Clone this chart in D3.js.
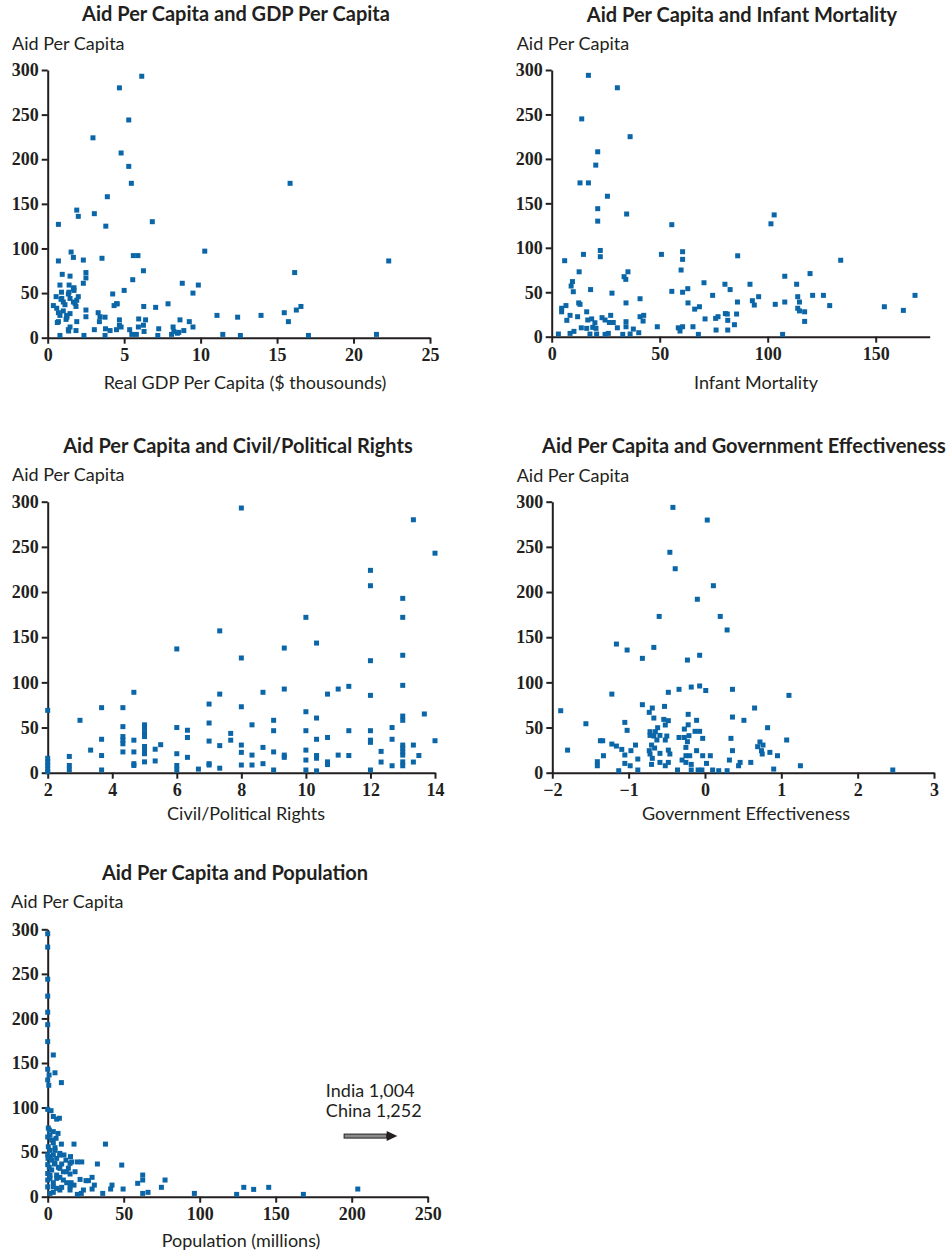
<!DOCTYPE html>
<html>
<head>
<meta charset="utf-8">
<script src="https://cdn.jsdelivr.net/npm/d3@7"></script>
<style>
  body { margin: 0; background: #fff; }
  .title { font-family: Lato, 'Open Sans', sans-serif; font-weight: 700; font-size: 20px; fill: #231f20; }
  .lab { font-family: Lato, 'Open Sans', sans-serif; font-size: 18px; fill: #231f20; }
  .axis path, .axis line { stroke: #231f20; stroke-width: 2; }
</style>
</head>
<body>
<svg id="chart" width="952" height="1256"></svg>
<script>
// y axis shared by all panels
const aidTicks = [0, 50, 100, 150, 200, 250, 300]

// GDP per capita ($ thousands) vs aid per capita
const gdpTicks = [0, 5, 10, 15, 20, 25]
const gdpX = [6.15, 4.69, 5.3, 2.96, 4.8, 5.3, 5.47, 15.85, 3.9, 1.9,
  3.05, 2.0, 0.7, 3.8, 6.84, 10.27, 1.53, 1.68, 2.33, 3.55,
  5.6, 5.9, 0.7, 22.3, 2.5, 2.5, 0.95, 1.46, 2.33, 6.26,
  16.15, 5.56, 8.8, 9.85, 0.8, 1.4, 1.72, 1.72, 5.0, 9.5,
  4.25, 0.9, 1.35, 0.55, 2.0, 0.92, 1.46, 1.02, 1.68, 1.9,
  4.5, 4.34, 7.87, 6.28, 7.06, 16.56, 16.26, 0.37, 0.59, 1.85,
  1.13, 2.5, 0.7, 1.02, 1.46, 3.3, 15.47, 0.8, 1.24, 2.5,
  3.42, 3.75, 11.07, 12.42, 13.95, 0.7, 1.2, 1.9, 3.38, 4.69,
  5.95, 6.4, 8.65, 9.26, 15.74, 4.69, 1.46, 5.93, 6.26, 9.5,
  8.2, 4.8, 1.35, 1.85, 3.05, 3.78, 4.08, 4.5, 5.36, 7.26,
  6.3, 8.25, 8.9, 8.57, 0.8, 2.37, 3.75, 5.5, 5.8, 7.2,
  8.1, 11.45, 12.6, 17.05, 21.5,
  1.26, 0.63, 1.79, 0.87, 1.39, 1.68, 4.55, 1.37, 8.48]
const gdpY = [293, 280, 244, 224, 207, 192, 173, 173, 158, 143,
  139, 136, 127, 125, 130, 97, 96, 90, 87, 89,
  92, 92, 86, 86, 73, 67, 71, 69, 61, 75,
  73, 65, 61, 59, 59, 59, 56, 53, 53, 50,
  49, 51, 49, 46, 46, 44, 44, 40, 40, 42,
  38, 36, 38, 35, 34, 35, 31, 36, 33, 35,
  37, 31, 28, 30, 27, 28, 28, 25, 25, 23.5,
  23.5, 23, 25, 23, 25, 18, 20.5, 18, 18, 20,
  21, 20, 20, 18, 18, 14, 12, 12, 14, 12,
  12, 12, 9, 8, 9, 10, 8, 9, 9, 10,
  7, 7, 8, 6, 2.5, 2.5, 2.5, 3.7, 3.7, 2.5,
  3.7, 3.7, 2.5, 2.5, 3.7,
  23, 17, 38.5, 43, 51, 55, 38, 7.5, 5]

// infant mortality
const imTicks = [0, 50, 100, 150]
const imX = [17, 30.4, 13.9, 36.3, 21.3, 20.4, 13.1, 17, 25.8, 21.3,
  34.7, 21.3, 55.6, 101.5, 103, 22.5, 22.5, 14.7, 50.8, 60.6,
  60.6, 86.1, 6, 133.8, 59.9, 12.7, 35.3, 107.9, 119.6, 33.5,
  34.3, 9.6, 9, 70.5, 80.2, 91.8, 113.4, 18, 10, 27.9,
  55.6, 60.6, 63, 82.6, 74.5, 120.8, 125.8, 168.2, 95.8, 113.9,
  40.9, 92.9, 93.8, 86, 107.9, 114.7, 12.5, 34.4, 63.1, 103.5,
  128.7, 154, 68.4, 66.2, 113.9, 114.7, 117.1, 162.8, 6.6, 4.6,
  4.6, 13.1, 16.2, 85.6, 80.4, 81.3, 8.5, 12, 23.3, 27.3,
  40.9, 42.6, 77, 75.9, 71, 7, 16.7, 18.5, 24.7, 26.7,
  28.5, 42.3, 34.4, 20, 81.5, 117.1, 84.6, 13.7, 16.2, 19,
  20.5, 30.4, 34.4, 37.8, 48.9, 58.6, 60.6, 65.4, 76.1, 81.5,
  59.4, 3.1, 8.5, 10.3, 17.7, 20.8, 24.7, 26.2, 32.9, 36.3,
  40.3, 67.9, 106.9]
const imY = [294, 280, 245, 225, 208, 193, 173, 173, 158, 144,
  138, 130, 126, 127, 137, 97, 90, 92.6, 92.6, 95.6,
  87, 91, 85.5, 86, 75, 73, 73, 68, 71, 67.5,
  64.5, 62, 57, 60.7, 59, 59, 59, 53, 50.6, 49,
  51, 50, 54, 53, 46.5, 46.5, 46.5, 46.5, 45, 45,
  42.7, 40.5, 35.6, 39, 39, 39, 38, 38, 38, 36.4,
  35, 33.7, 33.7, 31, 32, 29, 28, 29.6, 35, 32,
  28, 36.4, 28, 25.5, 26, 25.5, 24, 22.5, 21.4, 24,
  22.5, 24, 22.5, 20.6, 20, 18.4, 18.8, 20, 18.8, 16,
  16, 17.6, 16.9, 15.7, 18.4, 17.2, 13.5, 10, 9.4, 10.5,
  9.4, 10, 11.2, 8.6, 11.2, 10, 11.2, 11.2, 7.5, 7.5,
  6.4, 3, 3.7, 6, 3, 3, 2.6, 3.7, 2.6, 3,
  4.5, 2.6, 2.6]

// civil / political rights
const civTicks = [2, 4, 6, 8, 10, 12, 14]
const civX = [2, 2, 2, 2, 2, 2, 2.67, 2.67, 2.67, 3, 3.33,
  3.67, 3.67, 3.67, 3.67, 4.33, 4.33, 4.33, 4.33, 4.33, 4.33,
  4.67, 4.67, 4.67, 4.67, 4.67, 5, 5, 5, 5, 5, 5, 5, 5,
  5.33, 5.33, 5.5, 6, 6, 6, 6, 6, 6.33, 6.33, 6.33, 6.67,
  7, 7, 7, 7, 7, 7.33, 7.33, 7.33, 7.33, 7.67, 7.67,
  8, 8, 8, 8, 8, 8, 8.33, 8.33, 8.33, 8.67, 8.67, 8.67,
  9, 9, 9, 9, 9.33, 9.33, 9.33, 9.33,
  10, 10, 10, 10, 10, 10, 10.33, 10.33, 10.33, 10.33, 10.33, 10.33,
  10.67, 10.67, 10.67, 10.67, 11, 11, 11.33, 11.33, 11.33,
  12, 12, 12, 12, 12, 12, 12, 12, 12.33, 12.33, 12.67, 12.67, 12.67,
  13, 13, 13, 13, 13, 13, 13, 13, 13, 13, 13, 13,
  13.33, 13.33, 13.33, 13.5, 13.67, 14, 14]
const civY = [69, 16, 12, 8, 4, 1, 18, 8, 3, 58, 25,
  72, 37, 19, 3, 72, 51, 40, 36, 32, 23,
  89, 36, 23, 10, 8, 53, 49, 43.5, 40, 29, 25, 21, 12,
  26, 13, 31, 137, 50, 21, 8, 3, 47, 39, 17, 4,
  76, 55, 35, 10, 8.5, 157, 87, 30, 5, 43.5, 36,
  293, 127, 73, 30.6, 22.5, 8.5, 53, 19.5, 8.5, 89, 28, 10,
  58, 46.5, 23, 3, 138, 92.6, 19.5, 17,
  172, 67.5, 46.5, 25, 14, 3, 143.5, 60.5, 37, 19, 16, 2,
  87, 39, 12, 9, 92.6, 19.5, 95.6, 46.5, 19,
  224, 207, 124, 85.6, 46.5, 36, 33.6, 3, 23.6, 11.8, 50, 37, 7.7,
  193, 172, 130, 96.7, 62.7, 58, 30.6, 27, 23, 19.5, 12, 7.7,
  280, 30.6, 11.8, 19, 65, 243, 35.4]

// government effectiveness
const geTicks = [-2, -1, 0, 1, 2, 3]
const geX = [-0.42, 0.03, -0.46, -0.39, 0.11, -0.1, -0.6, 0.2, 0.29, -1.16,
  -1.02, -0.67, -0.82, -0.23, -0.07, -0.18, -0.07, 0.01, -0.34, -0.48,
  0.36, -1.22, 1.1, -1.89, -0.82, -0.69, -0.53, 0.65, -0.73, -0.22,
  -0.67, -0.54, -0.48, -0.11, 0.36, 0.51, -1.56, -1.05, -0.52, -0.22,
  -0.62, -0.27, 0.82, -1.02, -0.72, -0.65, -0.13, -0.07, -0.72, -0.67,
  -0.59, -0.5, -0.34, -0.27, -0.21, -0.03, 0.34, 1.07, -1.37, -1.34,
  -0.63, -0.52, -0.23, 0.72, -1.22, -1.16, -0.91, -0.7, -0.25, 0.69,
  0.76, -1.09, -0.97, -0.73, -0.66, -0.48, -0.11, 0.36, 0.74, 0.85,
  -1.8, -1.33, -1.05, -0.72, -0.59, -0.46, -0.25, -0.2, -0.03, 0.07,
  0.75, 0.95, -0.69, -0.88, -0.3, 0.32, -1.41, -1.05, -0.7, -0.59,
  -0.48, -0.25, -0.18, 0.02, 0.46, 0.6, -1.41, -0.98, -0.52, 0.44,
  1.25, -1.13, -0.88, -0.36, -0.18, -0.09, -0.04, 0.1, 0.18, 0.29,
  0.9, 2.46]
const geY = [293.7, 279.7, 244, 225.8, 207, 192, 173, 173, 158, 142.4,
  135.8, 138.7, 126.6, 124.7, 130, 94.8, 96, 91, 92.3, 89,
  92.3, 87, 85.6, 68.6, 75.3, 71.6, 73.4, 71.6, 66.8, 64.6,
  60.5, 59, 57.6, 58, 61.6, 58, 54.2, 55.7, 52.8, 53,
  49.8, 48.3, 49.8, 46.9, 45.4, 45.4, 45.8, 45.8, 41.3, 40.6,
  41.3, 40.6, 39, 39, 41, 38, 38, 36.2, 35.4, 35.4,
  36.2, 36.2, 34.3, 34, 31.7, 29.5, 30.6, 30.6, 28, 28.8,
  30.6, 25.8, 24.4, 24.4, 27.3, 25, 24.4, 24.4, 24.4, 22.5,
  25, 18.8, 19.6, 20.7, 21.4, 20.7, 18.8, 18.8, 18.8, 18.8,
  20.7, 18.8, 15.9, 15.1, 14, 14, 12.2, 10.3, 9.2, 11.4,
  11.4, 11.4, 9.2, 10.3, 11.4, 11.4, 7.7, 7.7, 7.7, 7.7,
  7.7, 2.2, 3, 3, 3, 3, 3, 3, 2.2, 2.2,
  4, 3]

// population (millions)
const popTicks = [0, 50, 100, 150, 200, 250]
const popX = [0, 0, 0, 0, 0, 0, 0, 3.7, 0, 0.9,
  4.8, 0, 0.7, 9, 0, 2.2, 3.7, 5.9, 7.7, 0.4,
  3.7, 6.8, 0, 1.5, 5.5, 17.3, 38, 9, 3.7, 0.4,
  4.8, 1.5, 8, 10.7, 15, 3.7, 0.2, 5.9, 2.6, 12,
  15.8, 19.5, 22.4, 0, 4.4, 9.2, 32.7, 48.7, 7, 13.6,
  2.6, 10.3, 18, 14.7, 5.9, 1.5, 8, 29.2, 62.5, 62.5,
  77.2, 0, 21.3, 25.2, 26.8, 3.7, 12.5, 15.4, 59.2, 17.3,
  30.7, 42.3, 9.2, 5.9, 74.8, 129, 145.4, 29.2, 41.4, 49.6,
  135.5, 204, 14.7, 23.5, 3.7, 66, 22.1, 36.2, 62.5, 96.5,
  19.5, 124.3, 168.2,
  1.1, 2.6, 4.8, 1.5, 8, 4.8, 14.7, 8, 12.5, 1.5,
  5.9, 10.3, 3.7, 14.7, 8, 1.5, 0, 0, 0, 1]
const popY = [295, 280, 244, 225, 207, 193, 174, 159, 143, 136.5,
  139, 131, 125, 128, 98, 96.5, 90, 87, 88, 77,
  73, 71, 67, 69, 65.5, 59, 59, 59, 60.6, 56,
  55, 52, 48.6, 46.8, 45, 46.8, 43, 43, 41, 41,
  39, 39, 39, 36, 36.7, 36.7, 36.7, 35.5, 33, 32,
  30, 28, 28, 25.4, 24.3, 20.6, 21.7, 21.7, 24.3, 18.7,
  18.7, 18.7, 19.4, 18, 18, 15.7, 15.7, 15.7, 15, 13,
  13, 13, 10.5, 9.4, 10.5, 10.5, 10.5, 8.6, 8.6, 8.6,
  8.2, 8.6, 7.5, 7.5, 4.9, 4.9, 3.7, 3.7, 3.7, 3.7,
  2.6, 2.6, 2.6,
  74.7, 63.5, 52, 45, 46.7, 37.4, 37.4, 31.8, 28, 24.3,
  20.6, 18.7, 11.2, 11.2, 7.5, 3.7, 11, 26, 47, 33]

const ink = '#231f20'
const blue = '#0b66a8'
const svg = d3.select('#chart')

function styleAxis(sel) {
  sel.selectAll('text')
    .style('font-family', "'Liberation Serif', 'DejaVu Serif', serif")
    .style('font-weight', '700')
    .style('font-size', '18px')
    .style('fill', ink)
}

function panel(o) {
  const g = svg.append('g')
  const x = d3.scaleLinear().domain(o.xDomain).range([o.x0, o.x1])
  const y = d3.scaleLinear().domain([0, 300]).range([o.yb, o.yt])

  g.append('text').attr('class', 'title')
    .attr('x', o.titleX).attr('y', o.titleY)
    .attr('text-anchor', 'middle').text(o.title)
  g.append('text').attr('class', 'lab')
    .attr('x', o.yLabX).attr('y', o.yLabY).text('Aid Per Capita')
  g.append('text').attr('class', 'lab')
    .attr('x', o.xLabX).attr('y', o.xLabY)
    .attr('text-anchor', 'middle').text(o.xLabel)

  g.append('g').attr('class', 'axis')
    .attr('transform', `translate(${o.x0},0)`)
    .call(d3.axisLeft(y).tickValues(aidTicks).tickSize(6).tickPadding(3).tickSizeOuter(0))
    .call(styleAxis)
  g.append('g').attr('class', 'axis')
    .attr('transform', `translate(0,${o.yb})`)
    .call(d3.axisBottom(x).tickValues(o.ticks).tickFormat(d3.format('d'))
      .tickSize(6).tickPadding(5).tickSizeOuter(0))
    .call(styleAxis)

  const pts = o.xs.map((v, i) => ({ x: v, y: o.ys[i] }))
  g.selectAll('rect.pt')
    .data(pts)
    .join('rect')
    .attr('class', 'pt')
    .attr('x', (d) => x(d.x) - 2.5)
    .attr('y', (d) => y(d.y) - 2.5)
    .attr('width', 5)
    .attr('height', 5)
    .style('fill', blue)
  return { g, x, y }
}

panel({ title: 'Aid Per Capita and GDP Per Capita', xLabel: 'Real GDP Per Capita ($ thousounds)',
  xs: gdpX, ys: gdpY, xDomain: [0, 25], ticks: gdpTicks,
  x0: 47.7, x1: 430, yb: 337.7, yt: 70,
  titleX: 236, titleY: 21, yLabX: 12, yLabY: 50, xLabX: 245, xLabY: 389 })

panel({ title: 'Aid Per Capita and Infant Mortality', xLabel: 'Infant Mortality',
  xs: imX, ys: imY, xDomain: [0, 175], ticks: imTicks,
  x0: 551.7, x1: 929.7, yb: 336.7, yt: 70,
  titleX: 742, titleY: 22, yLabX: 516.7, yLabY: 50, xLabX: 756, xLabY: 389 })

panel({ title: 'Aid Per Capita and Civil/Political Rights', xLabel: 'Civil/Political Rights',
  xs: civX, ys: civY, xDomain: [2, 14], ticks: civTicks,
  x0: 47.7, x1: 435, yb: 772.7, yt: 501.7,
  titleX: 238, titleY: 453, yLabX: 12, yLabY: 481, xLabX: 246, xLabY: 820 })

panel({ title: 'Aid Per Capita and Government Effectiveness', xLabel: 'Government Effectiveness',
  xs: geX, ys: geY, xDomain: [-2, 3], ticks: geTicks,
  x0: 552.3, x1: 934, yb: 772.7, yt: 501.7,
  titleX: 744, titleY: 453, yLabX: 516.7, yLabY: 482, xLabX: 746, xLabY: 820 })

const pop = panel({ title: 'Aid Per Capita and Population', xLabel: 'Population (millions)',
  xs: popX, ys: popY, xDomain: [0, 250], ticks: popTicks,
  x0: 47.7, x1: 427.7, yb: 1196.7, yt: 929.3,
  titleX: 235, titleY: 880, yLabX: 11, yLabY: 908, xLabX: 241, xLabY: 1247 })

// India and China are off the scale
const outliers = ['India 1,004', 'China 1,252']
pop.g.selectAll('text.note')
  .data(outliers)
  .join('text')
  .attr('class', 'lab note')
  .attr('x', pop.x(183))
  .attr('y', (d, i) => pop.y(112) + i * 20)
  .text((d) => d)

const ay = pop.y(68)
const ax0 = pop.x(195), ax1 = pop.x(223), ax2 = pop.x(230)
pop.g.append('rect')
  .attr('x', ax0).attr('y', ay - 2)
  .attr('width', ax1 - ax0).attr('height', 4)
  .style('fill', '#8a8a8a').style('stroke', ink).style('stroke-width', 1)
pop.g.append('path')
  .attr('d', `M${ax1},${ay - 5}L${ax2},${ay}L${ax1},${ay + 5}Z`)
  .style('fill', ink)
</script>
</body>
</html>
